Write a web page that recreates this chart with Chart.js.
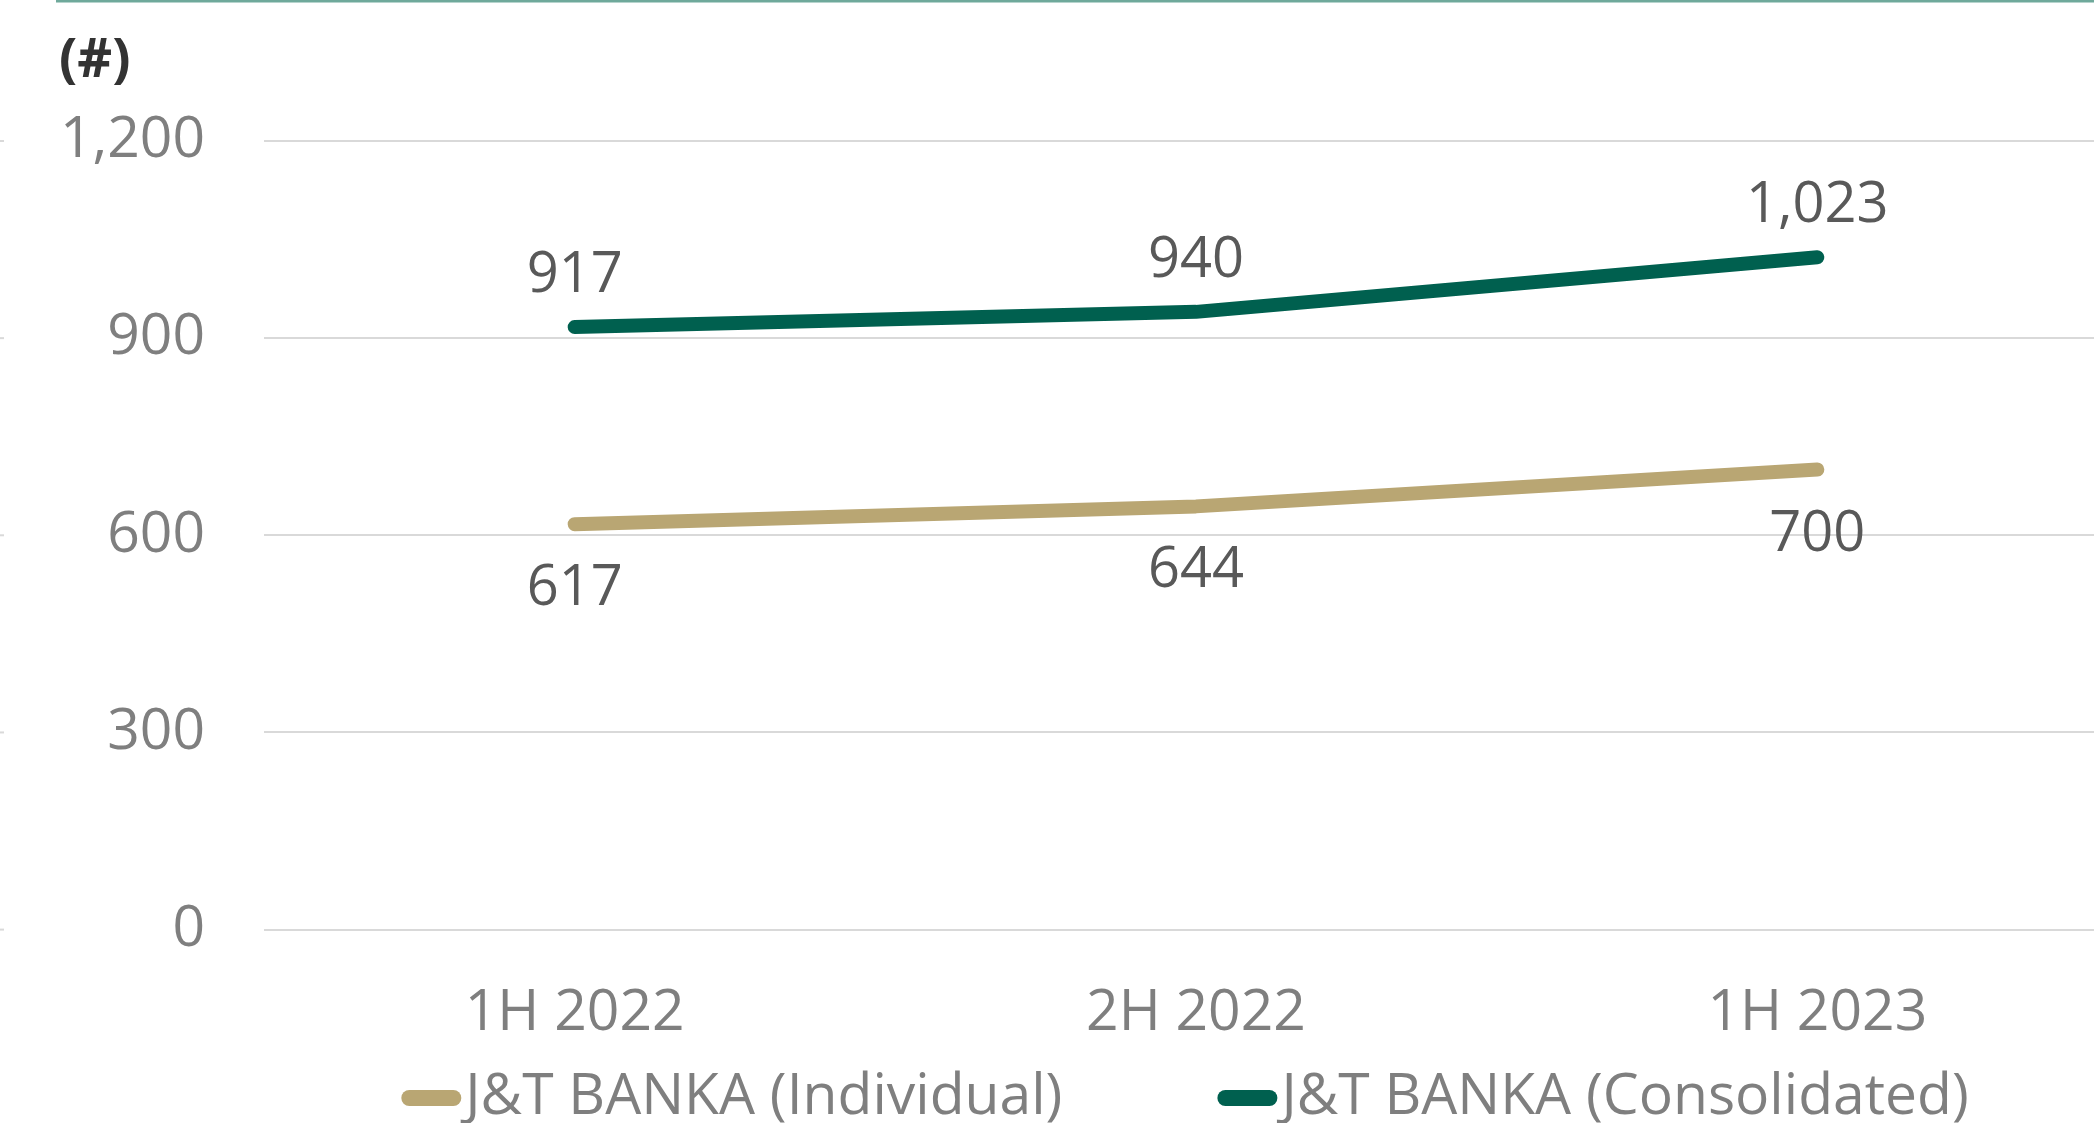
<!DOCTYPE html>
<html>
<head>
<meta charset="utf-8">
<script src="https://cdn.jsdelivr.net/npm/chart.js@4"></script>
<style>
  html, body { margin: 0; padding: 0; background: #fff; overflow: hidden; }
  #wrap { position: absolute; left: 0; top: 0; width: 2128px; height: 1123px; }
</style>
</head>
<body>
<div id="wrap"><canvas id="myChart"></canvas></div>
<script>
const labels = ['1H 2022', '2H 2022', '1H 2023'];
const individual = [617, 644, 700];
const consolidated = [917, 940, 1023];
const seriesNames = ['J&T BANKA (Individual)', 'J&T BANKA (Consolidated)'];
const colors = ['#B9A673', '#00604F'];
const yTicks = [0, 300, 600, 900, 1200];

const FONT = '"Open Sans", sans-serif';

// etiquetas de valores, leyenda, "(#)" y linea superior
const extras = {
    id: 'extras',
    afterDatasetsDraw(chart) {
        const ctx = chart.ctx;
        const area = chart.chartArea;
        ctx.save();
        ctx.font = '56px ' + FONT;
        ctx.fillStyle = '#595959';
        ctx.textAlign = 'center';
        ctx.textBaseline = 'middle';
        chart.data.datasets.forEach(function(ds, i) {
            const meta = chart.getDatasetMeta(i);
            meta.data.forEach(function(pt, j) {
                const txt = ds.data[j].toLocaleString('en-US');
                const dy = i === 1 ? -51 : 65;
                ctx.fillText(txt, pt.x, pt.y + dy);
            });
        });

        // leyenda
        ctx.font = '57px ' + FONT;
        ctx.textAlign = 'left';
        const markW = 60, gap = 4, itemGap = 155;
        const widths = chart.data.datasets.map(ds => markW + gap + ctx.measureText(ds.label).width);
        const total = widths.reduce((a, b) => a + b, 0) + itemGap * (widths.length - 1);
        let x = (area.left + area.right) / 2 - 11 - total / 2;
        const ly = 1098;
        chart.data.datasets.forEach(function(ds, i) {
            ctx.strokeStyle = ds.borderColor;
            ctx.lineWidth = 16;
            ctx.lineCap = 'round';
            ctx.beginPath();
            ctx.moveTo(x + 8, ly);
            ctx.lineTo(x + markW - 8, ly);
            ctx.stroke();
            ctx.fillStyle = '#7F7F7F';
            ctx.fillText(ds.label, x + markW + gap, ly);
            x += widths[i] + itemGap;
        });

        // marquitas a la izquierda
        ctx.strokeStyle = '#D9D9D9';
        ctx.lineWidth = 2;
        ctx.lineCap = 'butt';
        yTicks.forEach(function(v) {
            const y = chart.scales.y.getPixelForValue(v);
            ctx.beginPath();
            ctx.moveTo(0, y);
            ctx.lineTo(4, y);
            ctx.stroke();
        });

        ctx.font = 'bold 54px ' + FONT;
        ctx.fillStyle = '#333333';
        ctx.textAlign = 'left';
        ctx.fillText('(#)', area.left - 205, 62);
        ctx.strokeStyle = '#6FA99B';
        ctx.lineWidth = 3;
        ctx.beginPath();
        ctx.moveTo(56, 1);
        ctx.lineTo(chart.width, 1);
        ctx.stroke();
        ctx.restore();
    }
};

const ctx = document.getElementById('myChart').getContext('2d');
new Chart(ctx, {
    type: 'line',
    data: {
        labels: labels,
        datasets: [{
            label: seriesNames[0],
            data: individual,
            borderColor: colors[0],
            backgroundColor: colors[0],
        }, {
            label: seriesNames[1],
            data: consolidated,
            borderColor: colors[1],
            backgroundColor: colors[1],
        }]
    },
    options: {
        responsive: true,
        maintainAspectRatio: false,
        animation: false,
        layout: { padding: { top: 141, right: 0, bottom: 33, left: 0 } },
        elements: {
            line: { borderWidth: 14, tension: 0, borderCapStyle: 'round', borderJoinStyle: 'round' },
            point: { radius: 0, hoverRadius: 0 }
        },
        scales: {
            x: {
                offset: true,
                grid: { display: false },
                border: { display: false },
                ticks: { color: '#7F7F7F', font: { family: FONT, size: 57 }, padding: 42 }
            },
            y: {
                min: 0,
                max: 1200,
                afterBuildTicks: function(axis) {
                    axis.ticks = yTicks.map(v => ({ value: v }));
                },
                afterFit: function(axis) { axis.width = 264; },
                grid: { color: '#D9D9D9', lineWidth: 2, drawTicks: false },
                border: { display: false },
                ticks: {
                    color: '#7F7F7F',
                    font: { family: FONT, size: 57 },
                    padding: 59,
                    callback: v => v.toLocaleString('en-US')
                }
            }
        },
        plugins: {
            legend: { display: false },
            title: { display: false },
            tooltip: { enabled: false }
        }
    },
    plugins: [extras]
});
</script>
</body>
</html>
